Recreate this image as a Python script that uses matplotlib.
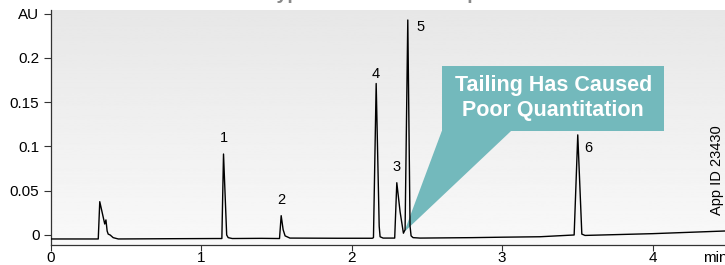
import numpy as np
import matplotlib.pyplot as plt
from matplotlib.patches import Polygon, Rectangle

# trace (min, AU)
time = [0.00, 0.30, 0.317, 0.327, 0.360, 0.368, 0.376, 0.383, 0.396, 0.416, 0.45,
        0.80, 1.10, 1.138, 1.149, 1.170, 1.180, 1.207,
        1.40, 1.521, 1.532, 1.545, 1.558, 1.59,
        1.90, 2.137, 2.145, 2.163, 2.183, 2.189, 2.209,
        2.286, 2.300, 2.322, 2.344, 2.355, 2.373, 2.388, 2.395, 2.408, 2.455,
        2.80, 3.00, 3.25, 3.478, 3.502, 3.529, 3.55, 4.00, 4.48]
absorb = [-0.0045, -0.0045, -0.0045, 0.0376, 0.0124, 0.017, 0.0045, 0.001, 0.0, -0.003, -0.0045,
          -0.0042, -0.004, -0.004, 0.0914, 0.0, -0.003, -0.004,
          -0.0038, -0.004, 0.0218, 0.006, -0.001, -0.0035,
          -0.0037, -0.0037, -0.003, 0.171, 0.01, -0.002, -0.0035,
          -0.0035, 0.059, 0.026, 0.002, 0.006, 0.2427, 0.01, -0.001, -0.003, -0.0035,
          -0.003, -0.0025, -0.002, 0.0, 0.113, 0.001, -0.0005, 0.0015, 0.0045]

peak_names = ['1', '2', '3', '4', '5', '6']
peak_x = [1.149, 1.532, 2.298, 2.163, 2.455, 3.57]
peak_y = [0.109, 0.0395, 0.077, 0.182, 0.235, 0.098]

yticks = [0, 0.05, 0.1, 0.15, 0.2, 0.25]
ytick_labels = ['0', '0.05', '0.1', '0.15', '0.2', 'AU']
xticks = [0, 1, 2, 3, 4]

plt.rcParams['font.family'] = ['Liberation Sans', 'DejaVu Sans']

fig = plt.figure(figsize=(7.25, 2.65), dpi=100)
ax = fig.add_axes([0.0697, 0.0755, 0.9303, 0.8868])
ax.set_xlim(0, 4.48)
ax.set_ylim(-0.0113, 0.254)

# grey gradient background
grad = np.linspace(0.975, 0.905, 256).reshape(-1, 1)
ax.imshow(grad, cmap='gray', vmin=0, vmax=1, aspect='auto', origin='lower',
          extent=[0, 1, 0, 1], transform=ax.transAxes, zorder=0)

ax.plot(time, absorb, color='black', lw=1.0, zorder=3)

for n, x, y in zip(peak_names, peak_x, peak_y):
    ax.text(x, y, n, ha='center', va='center', fontsize=10.5, zorder=4)

# callout
teal = '#73b9bc'
ax.add_patch(Polygon([[2.599, 0.1174], [3.059, 0.1174], [2.349, 0.0034]],
                     closed=True, fc=teal, ec='none', zorder=2))
ax.add_patch(Rectangle((2.599, 0.1174), 4.078 - 2.599, 0.191 - 0.1174,
                       fc=teal, ec='none', zorder=2))
ax.text((2.599 + 4.078) / 2, (0.1174 + 0.191) / 2 + 0.001,
        'Tailing Has Caused\nPoor Quantitation', ha='center', va='center',
        color='white', fontsize=15.5, fontweight='bold', linespacing=1.25, zorder=4)

ax.text(0.988, 0.32, 'App ID 23430', rotation=90, ha='center', va='center',
        transform=ax.transAxes, fontsize=10.5)

ax.set_yticks(yticks)
ax.set_yticklabels(ytick_labels)
ax.set_xticks(xticks)
ax.tick_params(axis='both', labelsize=11, color='#333333', width=0.8)
ax.tick_params(axis='y', length=5, pad=3)
ax.tick_params(axis='x', length=4, pad=0)
for s in ['top', 'right']:
    ax.spines[s].set_visible(False)
for s in ['left', 'bottom']:
    ax.spines[s].set_color('#333333')
    ax.spines[s].set_linewidth(0.9)

# unit on the x axis, level with the tick labels
ax.annotate('min', xy=(0.985, 0), xycoords='axes fraction',
            xytext=(0, -4), textcoords='offset points', ha='center', va='top', fontsize=11)

# clipped title above the figure
fig.text(0.525, 1.0 + 1 / 265, 'Typical Column Example', ha='center', va='baseline',
         color='#888888', fontsize=14, fontweight='bold')

fig.savefig('out.png', dpi=100)
